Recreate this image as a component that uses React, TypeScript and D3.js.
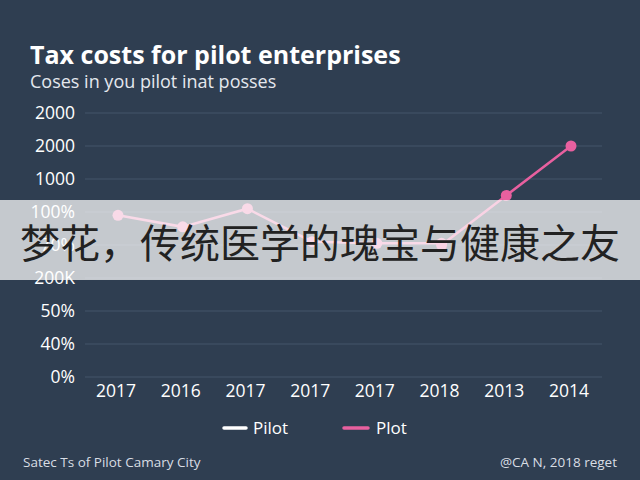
import React from 'react';
import * as d3 from 'd3';

// categories along the x axis (as printed)
const years = ['2017', '2016', '2017', '2017', '2017', '2018', '2013', '2014'];
// y tick labels, top to bottom (the axis is a plain ladder of labels)
const yTickLabels = ['2000', '2000', '1000', '100%', '70%', '200K', '50%', '40%', '0%'];
// series values in "grid steps" above the 0% line
const pilotValues: (number | null)[] = [4.9, 4.55, 5.1, 4.1, 4.05, 4.05, null, null];
const plotValues: (number | null)[] = [null, null, null, null, null, 4.0, 5.5, 7.0];

const W = 640;
const H = 480;
const BG = '#2f3e51';
const PINK = '#e8609f';
const PILOT = '#ea7aab';
const FONT = "'Open Sans', 'DejaVu Sans', sans-serif";

const App: React.FC = () => {
  const x = d3.scalePoint<number>()
    .domain(d3.range(years.length))
    .range([118, 571]);
  const y = d3.scaleLinear()
    .domain([0, yTickLabels.length - 1])
    .range([377, 113]);

  const line = d3.line<number | null>()
    .defined(d => d != null)
    .x((_, i) => x(i) as number)
    .y(d => y(d as number));

  const series = [
    { name: 'Pilot', values: pilotValues, color: PILOT },
    { name: 'Plot', values: plotValues, color: PINK },
  ];

  return (
    <svg width={W} height={H} style={{ position: 'absolute', left: 0, top: 0, display: 'block' }}>
      <rect width={W} height={H} fill={BG} />

      <text x={30} y={64} fill="#ffffff" fontFamily={FONT} fontWeight={700} fontSize={25}>
        Tax costs for pilot enterprises
      </text>
      <text x={30} y={88} fill="#e4e8ee" fontFamily={FONT} fontSize={18}>
        Coses in you pilot inat posses
      </text>

      {/* grid + y labels */}
      {yTickLabels.map((lab, i) => {
        const v = yTickLabels.length - 1 - i;
        return (
          <g key={i}>
            <line x1={85} x2={602} y1={y(v)} y2={y(v)} stroke="#45546a" strokeWidth={1} />
            <text x={75} y={y(v)} dy="0.35em" textAnchor="end" fill="#ffffff"
              fontFamily={FONT} fontSize={17.5}>{lab}</text>
          </g>
        );
      })}

      {/* x labels */}
      {years.map((yr, i) => (
        <text key={i} x={(x(i) as number) - 2} y={391} dy="0.35em" textAnchor="middle"
          fill="#ffffff" fontFamily={FONT} fontSize={17.5}>{yr}</text>
      ))}

      {/* lines */}
      {series.map(s => (
        <g key={s.name}>
          <path d={line(s.values) || ''} fill="none" stroke={s.color} strokeWidth={2.5} />
          {s.values.map((v, i) => v == null ? null : (
            <circle key={i} cx={x(i)} cy={y(v)} r={5.5} fill={s.color} />
          ))}
        </g>
      ))}

      {/* translucent banner over the chart */}
      <rect x={0} y={200} width={W} height={80} fill="#ffffff" fillOpacity={0.72} />
      <text x={W / 2} y={244} dy="0.35em" textAnchor="middle" fill="#222222"
        fontFamily="'Noto Sans CJK SC', sans-serif" fontSize={40}>
        梦花，传统医学的瑰宝与健康之友
      </text>

      {/* legend */}
      <line x1={224} x2={246} y1={428} y2={428} stroke="#ffffff" strokeWidth={3.5} strokeLinecap="round" />
      <text x={253} y={428} dy="0.35em" fill="#ffffff" fontFamily={FONT} fontSize={17}>Pilot</text>
      <line x1={344} x2={368} y1={428} y2={428} stroke={PINK} strokeWidth={3.5} strokeLinecap="round" />
      <text x={376} y={428} dy="0.35em" fill="#ffffff" fontFamily={FONT} fontSize={17}>Plot</text>

      {/* footer */}
      <text x={23} y={467} fill="#d8dde4" fontFamily={FONT} fontSize={13.5}>Satec Ts of Pilot Camary City</text>
      <text x={617} y={467} textAnchor="end" fill="#d8dde4" fontFamily={FONT} fontSize={13.5}>@CA N, 2018 reget</text>
    </svg>
  );
};

export default App;
